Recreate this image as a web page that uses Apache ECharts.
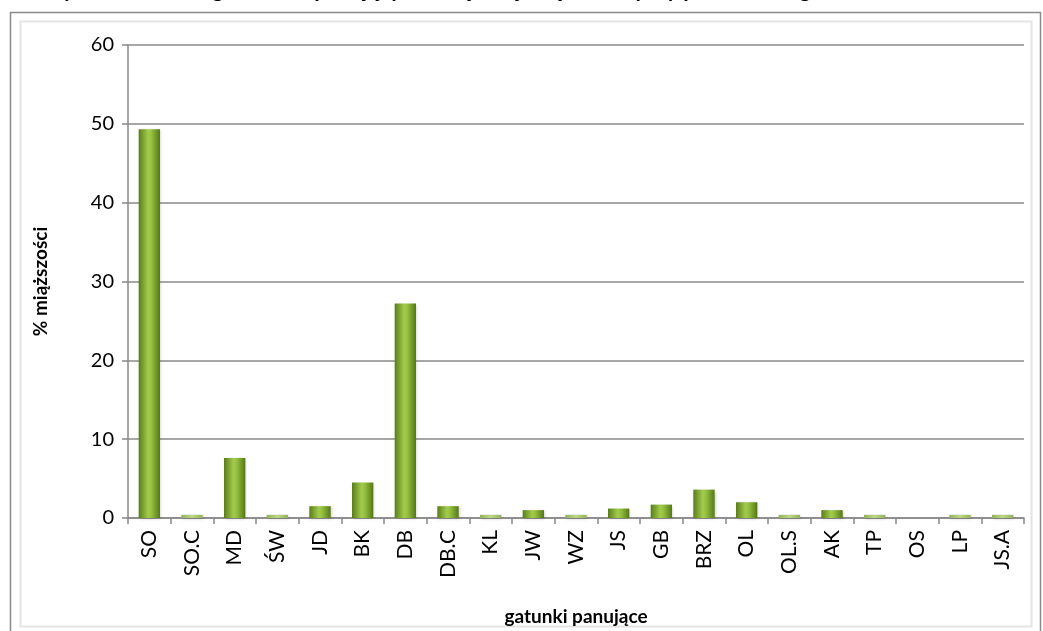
<!DOCTYPE html>
<html>
<head>
<meta charset="utf-8">
<script src="https://cdn.jsdelivr.net/npm/echarts@6/dist/echarts.min.js"></script>
<style>
  html, body { margin: 0; padding: 0; background: #fff; }
  #chart { width: 1043px; height: 631px; }
</style>
</head>
<body>
<div id="chart"></div>
<script>
// gatunki panujące
const categories = ['SO', 'SO.C', 'MD', 'ŚW', 'JD', 'BK', 'DB', 'DB.C', 'KL', 'JW', 'WZ',
  'JS', 'GB', 'BRZ', 'OL', 'OL.S', 'AK', 'TP', 'OS', 'LP', 'JS.A']
// % miąższości
const values = [49.3, 0.4, 7.6, 0.4, 1.5, 4.5, 27.2, 1.5, 0.4, 1.0, 0.4,
  1.2, 1.7, 3.6, 2.0, 0.4, 1.0, 0.4, 0, 0.4, 0.4]
const yTicks = { min: 0, max: 60, step: 10 }

const titleText = 'Wykres 1. Udział gatunków panujących w łącznej miąższości przy podziale na gatunki'
const font = 'Lato, "Open Sans", sans-serif'

const barColor = new echarts.graphic.LinearGradient(0, 0, 1, 0, [
  { offset: 0, color: '#5a7d1a' },
  { offset: 0.45, color: '#a2cc4c' },
  { offset: 0.6, color: '#94bf40' },
  { offset: 1, color: '#567816' }
])
const smallColor = new echarts.graphic.LinearGradient(0, 0, 1, 0, [
  { offset: 0, color: '#8fb25a' },
  { offset: 0.5, color: '#bcd986' },
  { offset: 1, color: '#8fb25a' }
])

const chart = echarts.init(document.getElementById('chart'), null, { renderer: 'canvas' })

chart.setOption({
  animation: false,
  backgroundColor: '#fff',
  graphic: [
    {
      type: 'text',
      x: 40,
      y: -21,
      style: {
        text: titleText,
        font: 'bold 22px ' + font,
        fill: '#000',
        verticalAlign: 'top'
      }
    },
    {
      type: 'rect',
      shape: { x: 10.5, y: 12.5, width: 1030, height: 640 },
      style: { fill: 'none', stroke: '#8a8a8a', lineWidth: 1.5 },
      z: -1
    },
    {
      type: 'rect',
      shape: { x: 20.5, y: 21.5, width: 1011, height: 605 },
      style: { fill: 'none', stroke: '#e4e4e4', lineWidth: 2 },
      z: -1
    }
  ],
  grid: { left: 128, top: 45, right: 19, bottom: 113 },
  xAxis: {
    type: 'category',
    data: categories,
    name: 'gatunki panujące',
    nameLocation: 'middle',
    nameGap: 89,
    nameTextStyle: { fontFamily: font, fontSize: 19, fontWeight: 'bold', color: '#000' },
    axisLine: { lineStyle: { color: '#888', width: 1.5 } },
    axisTick: { show: true, length: 6, lineStyle: { color: '#888', width: 1.5 } },
    axisLabel: {
      rotate: 90,
      interval: 0,
      margin: 12,
      fontFamily: font,
      fontSize: 21,
      color: '#000'
    }
  },
  yAxis: {
    type: 'value',
    min: yTicks.min,
    max: yTicks.max,
    interval: yTicks.step,
    name: '% miąższości',
    nameLocation: 'middle',
    nameGap: 78,
    nameTextStyle: { fontFamily: font, fontSize: 19, fontWeight: 'bold', color: '#000' },
    axisLine: { show: true, lineStyle: { color: '#888', width: 1.5 } },
    axisTick: { show: true, length: 6, lineStyle: { color: '#888', width: 1.5 } },
    axisLabel: { fontFamily: font, fontSize: 20, color: '#000', margin: 14 },
    splitLine: { lineStyle: { color: '#8a8a8a', width: 1.5 } }
  },
  series: [{
    type: 'bar',
    data: values.map(v => ({
      value: v,
      itemStyle: { color: v < 0.6 ? smallColor : barColor }
    })),
    barWidth: '50%',
    itemStyle: {
      shadowColor: 'rgba(0,0,0,0.18)',
      shadowBlur: 3,
      shadowOffsetX: 1,
      shadowOffsetY: 1
    }
  }]
})
</script>
</body>
</html>
